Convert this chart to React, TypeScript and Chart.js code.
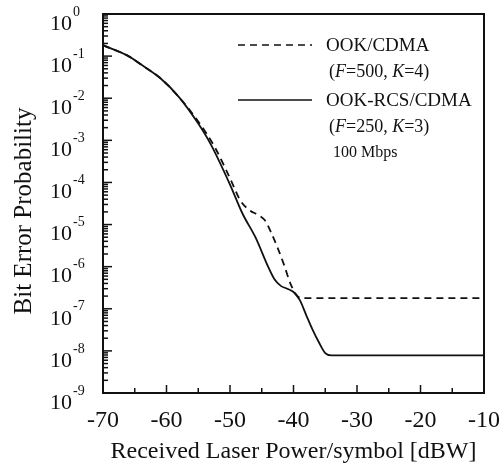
import React, { useEffect, useRef } from "react";
import { Chart, registerables } from "chart.js";

Chart.register(...registerables);

// ---- data ----
const powerOOK = [-70, -66, -64, -61, -58, -55, -52.4, -50, -48.4, -47, -45.5, -44.5, -43.5, -42.5, -41.5, -40.5, -39.5, -38.8, -30, -20, -10];
const berOOK = [0.182, 0.1, 0.063, 0.0302, 0.0105, 0.0028, 6.9e-4, 1.26e-4, 3.8e-5, 2.24e-5, 1.66e-5, 1.26e-5, 6.3e-6, 2.8e-6, 1.12e-6, 4.0e-7, 2.1e-7, 1.8e-7, 1.8e-7, 1.8e-7, 1.8e-7];

const powerRCS = [-70, -66, -64, -61, -58, -55, -53, -50, -48, -46, -44, -43, -42, -41, -40, -39, -38, -37, -36, -35, -34, -30, -20, -10];
const berRCS = [0.182, 0.1, 0.063, 0.0302, 0.0105, 0.0025, 7.9e-4, 8.9e-5, 1.78e-5, 5.0e-6, 1.0e-6, 5.0e-7, 3.5e-7, 3.0e-7, 2.5e-7, 1.6e-7, 7.1e-8, 3.2e-8, 1.6e-8, 8.9e-9, 7.8e-9, 7.8e-9, 7.8e-9, 7.8e-9];

const xTickValues = [-70, -60, -50, -40, -30, -20, -10];
const yExponents = [0, -1, -2, -3, -4, -5, -6, -7, -8, -9];

const seriesNames = ["OOK/CDMA", "OOK-RCS/CDMA"];
const seriesParams = [
  { F: "500", K: "4" },
  { F: "250", K: "3" },
];
const rateNote = "100 Mbps";
const xTitle = "Received Laser Power/symbol [dBW]";
const yTitle = "Bit Error Probability";

const FONT = "'Liberation Serif', 'Times New Roman', Times, serif";
const INK = "#111111";

export default function App() {
  const ref = useRef<HTMLCanvasElement | null>(null);

  useEffect(() => {
    document.body.style.margin = "0";
    const canvas = ref.current;
    if (!canvas) return;

    const line = (ctx: CanvasRenderingContext2D, x1: number, y1: number, x2: number, y2: number) => {
      ctx.beginPath();
      ctx.moveTo(x1, y1);
      ctx.lineTo(x2, y2);
      ctx.stroke();
    };

    const noPad = (s: any) => {
      s.paddingTop = 0;
      s.paddingBottom = 0;
      s.paddingLeft = 0;
      s.paddingRight = 0;
    };

    const framePlugin = {
      id: "frame",
      afterDraw(chart: any) {
        const { ctx, chartArea: a, scales } = chart;
        const xs = scales.x;
        const ys = scales.y;
        ctx.save();
        ctx.strokeStyle = INK;
        ctx.lineWidth = 2;
        ctx.strokeRect(a.left, a.top, a.right - a.left, a.bottom - a.top);

        // y ticks (inward, left side)
        ctx.lineWidth = 1.5;
        yExponents.forEach((e) => {
          const py = ys.getPixelForValue(Math.pow(10, e));
          line(ctx, a.left, py, a.left + 9, py);
          if (e > -9) {
            for (let m = 2; m <= 9; m++) {
              const pm = ys.getPixelForValue(m * Math.pow(10, e - 1));
              line(ctx, a.left, pm, a.left + 5, pm);
            }
          }
        });
        // x ticks (inward, bottom)
        for (let v = -65; v <= -15; v += 5) {
          const px = xs.getPixelForValue(v);
          const len = v % 10 === 0 ? 8 : 5;
          line(ctx, px, a.bottom, px, a.bottom - len);
        }

        // y tick exponents
        ctx.fillStyle = INK;
        ctx.font = `14px ${FONT}`;
        ctx.textAlign = "left";
        ctx.textBaseline = "middle";
        yExponents.forEach((e) => {
          const py = ys.getPixelForValue(Math.pow(10, e));
          ctx.fillText(String(e), a.left - 30, py - 2);
        });

        // y axis title
        ctx.save();
        ctx.translate(24, 211);
        ctx.rotate(-Math.PI / 2);
        ctx.font = `25px ${FONT}`;
        ctx.textAlign = "center";
        ctx.textBaseline = "middle";
        ctx.fillText(yTitle, 0, 0);
        ctx.restore();

        // legend
        const lx1 = 238;
        const lx2 = 312;
        const tx = 326;
        const rows = [
          { y: 45, dash: [7, 5] },
          { y: 100, dash: [] as number[] },
        ];
        ctx.textAlign = "left";
        rows.forEach((r, i) => {
          ctx.setLineDash(r.dash);
          ctx.lineWidth = 1.6;
          line(ctx, lx1, r.y, lx2, r.y);
          ctx.setLineDash([]);
          ctx.font = `19px ${FONT}`;
          ctx.textBaseline = "middle";
          ctx.fillText(seriesNames[i], tx, r.y + 1);
          const p = seriesParams[i];
          let cx = tx + 3;
          const py = r.y + 27;
          const parts: [string, boolean][] = [["(", false], ["F", true], ["=" + p.F + ", ", false], ["K", true], ["=" + p.K + ")", false]];
          parts.forEach(([t, it]) => {
            ctx.font = `${it ? "italic " : ""}18px ${FONT}`;
            ctx.fillText(t, cx, py);
            cx += ctx.measureText(t).width;
          });
        });
        ctx.font = `16px ${FONT}`;
        ctx.fillText(rateNote, 333, 153);
        ctx.restore();
      },
    };

    const chart = new Chart(canvas, {
      type: "line",
      data: {
        datasets: [
          {
            label: seriesNames[0],
            data: powerOOK.map((x, i) => ({ x, y: berOOK[i] })),
            borderColor: INK,
            borderWidth: 1.8,
            borderDash: [7, 5],
            pointRadius: 0,
            fill: false,
            cubicInterpolationMode: "monotone",
          },
          {
            label: seriesNames[1],
            data: powerRCS.map((x, i) => ({ x, y: berRCS[i] })),
            borderColor: INK,
            borderWidth: 1.8,
            pointRadius: 0,
            fill: false,
            cubicInterpolationMode: "monotone",
          },
        ],
      },
      options: {
        animation: false,
        responsive: false,
        devicePixelRatio: 1,
        layout: { padding: { left: 0, right: 17, top: 14, bottom: 0 } },
        plugins: { legend: { display: false }, tooltip: { enabled: false } },
        scales: {
          x: {
            type: "linear",
            min: -70,
            max: -10,
            grid: { display: false, drawTicks: false },
            border: { display: false },
            afterBuildTicks: (s: any) => {
              s.ticks = xTickValues.map((v) => ({ value: v }));
            },
            afterFit: (s: any) => {
              s.height = 70;
              noPad(s);
            },
            ticks: {
              color: INK,
              font: { family: FONT, size: 24 },
              padding: 13,
              maxRotation: 0,
              autoSkip: false,
            },
            title: {
              display: true,
              text: xTitle,
              color: INK,
              font: { family: FONT, size: 24 },
              padding: { top: 0, bottom: -3 },
            },
          },
          y: {
            type: "logarithmic",
            min: 1e-9,
            max: 1,
            grid: { display: false, drawTicks: false },
            border: { display: false },
            afterBuildTicks: (s: any) => {
              s.ticks = yExponents.map((e) => ({ value: Math.pow(10, e) }));
            },
            afterFit: (s: any) => {
              s.width = 103;
              noPad(s);
            },
            ticks: {
              color: INK,
              font: { family: FONT, size: 22 },
              padding: 31,
              labelOffset: 10,
              autoSkip: false,
              callback: () => "10",
            },
            title: { display: false },
          },
        },
      },
      plugins: [framePlugin],
    } as any);

    return () => chart.destroy();
  }, []);

  return (
    <div style={{ width: 501, height: 463, background: "#fff" }}>
      <canvas ref={ref} width={501} height={463} style={{ display: "block", width: 501, height: 463 }} />
    </div>
  );
}
